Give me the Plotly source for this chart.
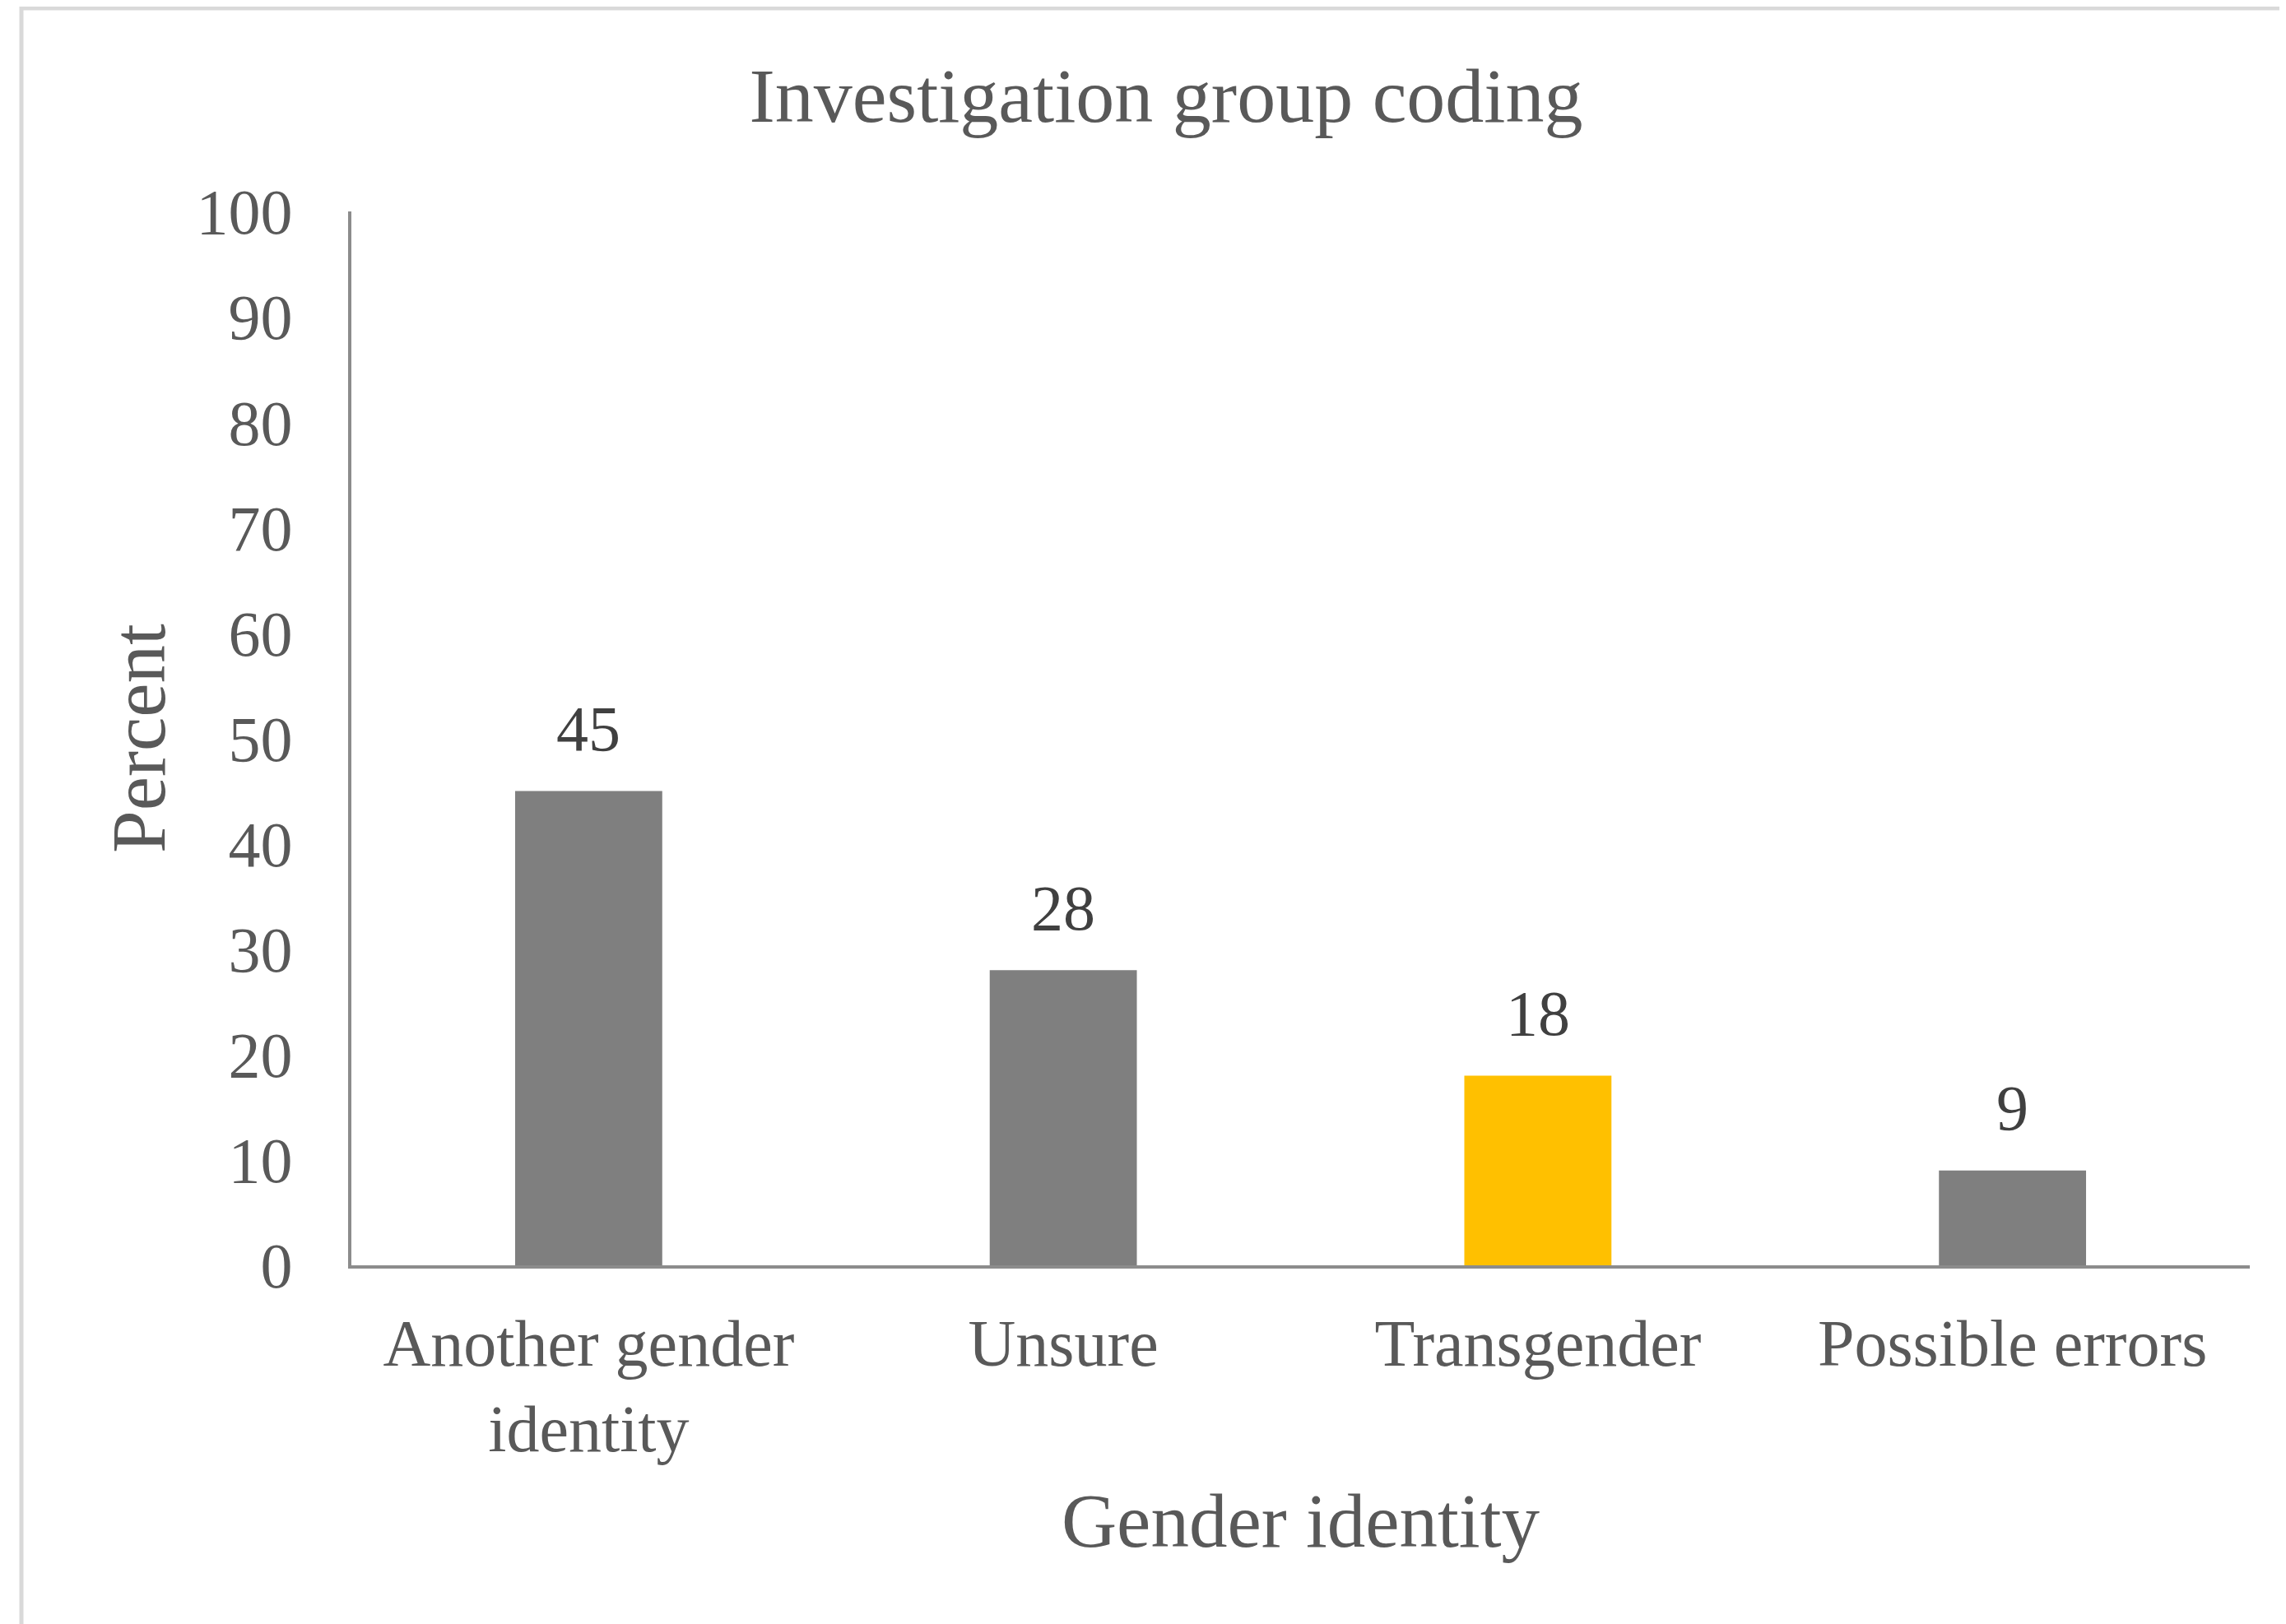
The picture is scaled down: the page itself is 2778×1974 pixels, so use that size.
import plotly.graph_objects as go

categories = ["Another gender<br>identity", "Unsure", "Transgender", "Possible errors"]
percent = [45, 28, 18, 9]
y_ticks = [0, 10, 20, 30, 40, 50, 60, 70, 80, 90, 100]

bar_colors = ["#7f7f7f", "#7f7f7f", "#ffc000", "#7f7f7f"]
FONT = "Liberation Serif, Times New Roman, serif"

W, H = 2778, 1974
L, R, T, B = 419, 52, 249, 444
plot_w = W - L - R
plot_h = H - T - B

fig = go.Figure()
fig.add_trace(go.Bar(
    x=categories, y=percent,
    marker=dict(color=bar_colors, line=dict(width=0)),
    hoverinfo="x+y",
))

for c, v in zip(categories, percent):
    fig.add_annotation(
        x=c, y=v, xref="x", yref="y", text=str(v), showarrow=False,
        yanchor="middle", yshift=76,
        font=dict(family=FONT, size=78, color="#404040"),
    )

# light chart-area border (top and left visible, right/bottom run off the canvas)
fig.add_shape(
    type="rect", xref="paper", yref="paper",
    x0=(18 - L) / plot_w, x1=1.2,
    y0=-0.6, y1=(H - B - 2) / plot_h,
    line=dict(color="#d9d9d9", width=5), fillcolor="rgba(0,0,0,0)", layer="below",
)

fig.update_layout(
    width=W, height=H,
    margin=dict(l=L, r=R, t=T, b=B, autoexpand=False),
    paper_bgcolor="white", plot_bgcolor="white",
    showlegend=False,
    bargap=0.69,
    font=dict(family=FONT, color="#595959"),
    title=dict(
        text="Investigation group coding",
        x=1409 / W, xref="container", xanchor="center",
        y=1 - 107 / H, yref="container", yanchor="middle",
        font=dict(family=FONT, size=94, color="#595959"),
    ),
    xaxis=dict(
        showline=True, linecolor="#8c8c8c", linewidth=4,
        showgrid=False, zeroline=False, ticks="",
        tickfont=dict(family=FONT, size=80, color="#595959"),
        ticklabelstandoff=22,
        title=dict(text="Gender identity", standoff=36,
                   font=dict(family=FONT, size=93, color="#595959")),
        automargin=False,
    ),
    yaxis=dict(
        range=[0, 100], tickvals=y_ticks, ticktext=[str(t) for t in y_ticks],
        showline=True, linecolor="#8c8c8c", linewidth=4,
        showgrid=False, zeroline=False, ticks="",
        tickfont=dict(family=FONT, size=78, color="#595959"),
        ticklabelstandoff=52,
        title=dict(text="Percent", standoff=8,
                   font=dict(family=FONT, size=93, color="#595959")),
        automargin=False,
    ),
)

fig.write_html("out.html")
